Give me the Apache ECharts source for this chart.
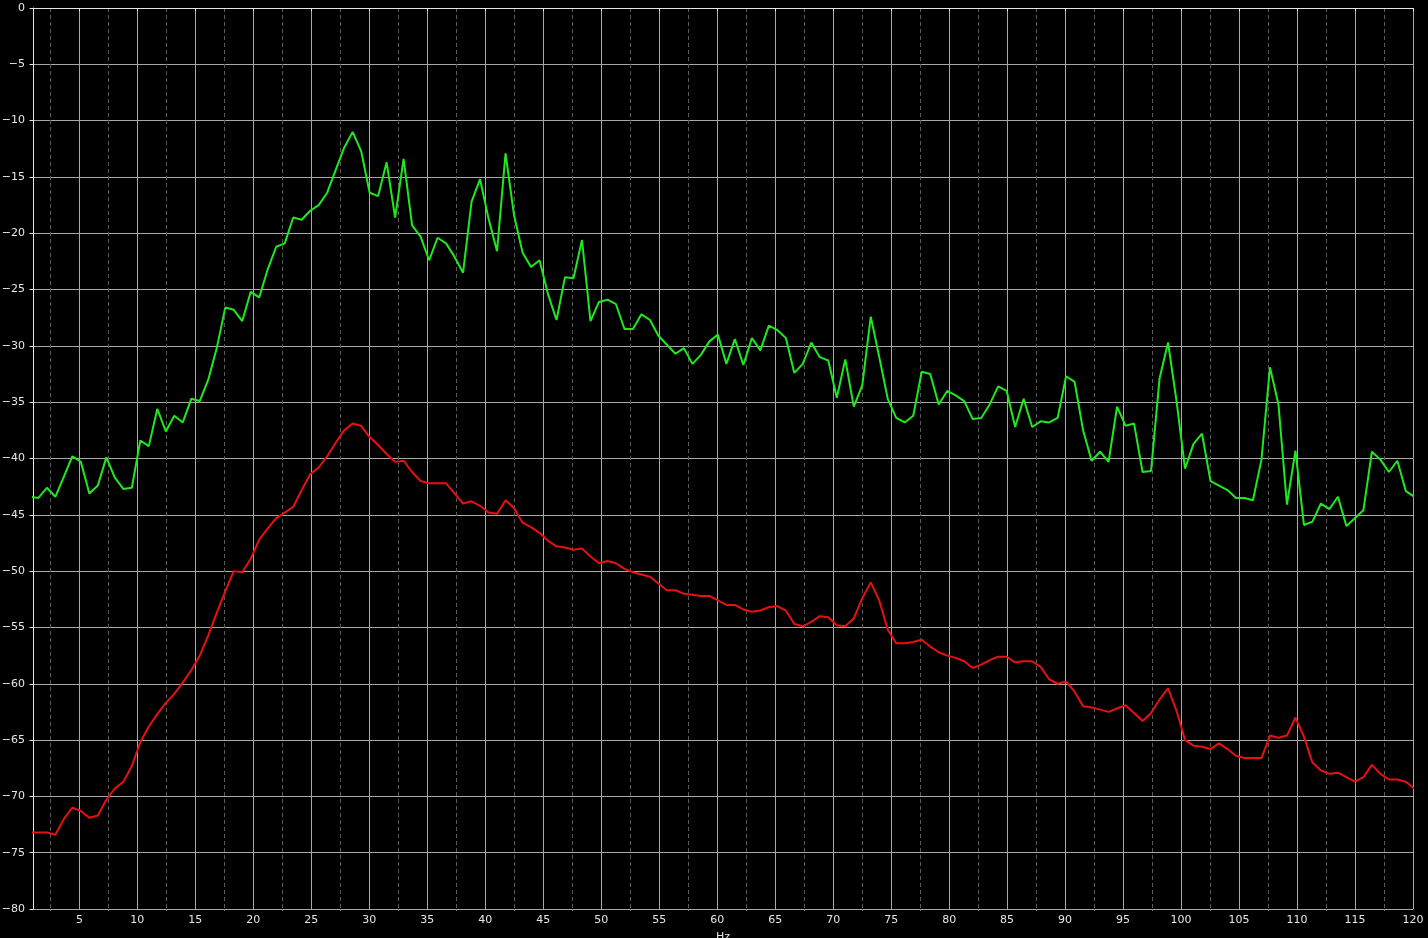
<!DOCTYPE html>
<html>
<head>
<meta charset="utf-8">
<style>
html,body{margin:0;padding:0;background:#000;}
#chart{width:1428px;height:938px;}
</style>
<script src="https://cdn.jsdelivr.net/npm/echarts@6/dist/echarts.min.js"></script>
</head>
<body>
<div id="chart"></div>
<script>
// FFT bin spacing (Hz) of the spectrum; bins start at bin 1
const FREQ_STEP_HZ = 0.732421875;

// Green spectrum (dB), one value per bin, bins 1..164
const greenDb = [
-43.4,-43.5,-42.6,-43.4,-41.6,-39.8,-40.3,-43.1,-42.4,-39.9,
-41.7,-42.7,-42.6,-38.4,-38.9,-35.6,-37.6,-36.2,-36.8,-34.7,
-34.9,-33.0,-30.2,-26.6,-26.8,-27.8,-25.2,-25.7,-23.2,-21.2,
-20.9,-18.6,-18.8,-18.0,-17.5,-16.4,-14.4,-12.4,-11.0,-12.7,
-16.4,-16.7,-13.7,-18.6,-13.4,-19.3,-20.3,-22.4,-20.4,-20.9,
-22.1,-23.5,-17.2,-15.2,-18.7,-21.6,-12.9,-18.4,-21.7,-23.0,
-22.4,-25.4,-27.7,-23.9,-24.0,-20.6,-27.8,-26.1,-25.9,-26.3,
-28.5,-28.5,-27.2,-27.7,-29.1,-29.9,-30.7,-30.2,-31.6,-30.8,
-29.6,-29.0,-31.6,-29.4,-31.7,-29.3,-30.4,-28.2,-28.6,-29.3,
-32.4,-31.6,-29.7,-31.0,-31.3,-34.6,-31.2,-35.4,-33.5,-27.4,
-31.0,-34.7,-36.4,-36.8,-36.2,-32.3,-32.5,-35.2,-34.0,-34.4,
-34.9,-36.5,-36.4,-35.2,-33.6,-34.0,-37.2,-34.7,-37.2,-36.7,
-36.8,-36.4,-32.7,-33.2,-37.5,-40.2,-39.4,-40.3,-35.4,-37.1,
-36.9,-41.2,-41.1,-32.9,-29.7,-34.9,-40.9,-38.7,-37.8,-42.0,
-42.4,-42.8,-43.5,-43.5,-43.7,-40.1,-31.9,-35.2,-44.1,-39.3,
-45.9,-45.6,-44.0,-44.5,-43.4,-46.0,-45.3,-44.6,-39.4,-40.1,
-41.2,-40.2,-42.9,-43.4
];

// Red spectrum (dB), one value per bin, bins 1..164
const redDb = [
-73.2,-73.2,-73.2,-73.4,-72.0,-71.0,-71.3,-71.9,-71.7,-70.3,
-69.3,-68.7,-67.3,-65.2,-63.8,-62.7,-61.7,-60.9,-59.9,-58.8,
-57.5,-55.7,-53.7,-51.8,-50.0,-50.1,-48.9,-47.2,-46.2,-45.3,
-44.8,-44.3,-42.8,-41.4,-40.8,-39.8,-38.6,-37.5,-36.9,-37.1,
-38.1,-38.8,-39.6,-40.3,-40.2,-41.2,-42.0,-42.2,-42.2,-42.2,
-43.1,-44.0,-43.8,-44.2,-44.8,-44.9,-43.7,-44.4,-45.7,-46.1,
-46.6,-47.3,-47.8,-47.9,-48.1,-48.0,-48.7,-49.3,-49.1,-49.3,
-49.8,-50.1,-50.3,-50.5,-51.1,-51.7,-51.7,-52.0,-52.1,-52.2,
-52.2,-52.6,-53.0,-53.0,-53.4,-53.6,-53.5,-53.2,-53.1,-53.5,
-54.7,-54.9,-54.5,-54.0,-54.1,-54.8,-54.9,-54.2,-52.4,-51.0,
-52.6,-55.2,-56.4,-56.4,-56.3,-56.1,-56.7,-57.2,-57.5,-57.7,
-58.0,-58.6,-58.3,-57.9,-57.6,-57.6,-58.1,-58.0,-58.0,-58.5,
-59.6,-60.0,-59.8,-60.7,-62.0,-62.1,-62.3,-62.5,-62.2,-61.9,
-62.6,-63.3,-62.6,-61.4,-60.4,-62.4,-65.0,-65.5,-65.6,-65.8,
-65.3,-65.8,-66.4,-66.6,-66.6,-66.6,-64.6,-64.8,-64.6,-63.0,
-64.7,-67.0,-67.7,-68.0,-67.9,-68.3,-68.7,-68.3,-67.2,-68.0,
-68.5,-68.5,-68.7,-69.3
];

// Axis ticks
const xMajorTicks = [5,10,15,20,25,30,35,40,45,50,55,60,65,70,75,80,85,90,95,100,105,110,115,120];
const xMinorTicks = [2.5,7.5,12.5,17.5,22.5,27.5,32.5,37.5,42.5,47.5,52.5,57.5,62.5,67.5,72.5,77.5,82.5,87.5,92.5,97.5,102.5,107.5,112.5,117.5];
const xRange = [1, 120];
const yRange = [-80, 0];
const yStep = 5;
const xName = 'Hz';

function toPairs(vals) {
  return vals.map((v, i) => [(i + 1) * FREQ_STEP_HZ, v]);
}

const chart = echarts.init(document.getElementById('chart'), null, {renderer: 'canvas'});
const axisColor = '#e6e6e6';
const gridColor = '#a8a8a8';
const font = 'DejaVu Sans';

chart.setOption({
  backgroundColor: '#000000',
  animation: false,
  grid: {left: 33, right: 15, top: 8, bottom: 29, containLabel: false, outerBoundsMode: 'none'},
  xAxis: [
    {
      type: 'value', min: xRange[0], max: xRange[1], position: 'bottom',
      name: xName, nameLocation: 'middle', nameGap: 23,
      nameTextStyle: {color: axisColor, fontSize: 11, fontFamily: font},
      axisLine: {show: true, lineStyle: {color: axisColor, width: 1}},
      axisTick: {show: true, inside: false, length: 3.5, customValues: xMajorTicks, lineStyle: {color: axisColor}},
      axisLabel: {show: true, customValues: xMajorTicks, color: axisColor, fontSize: 11, fontFamily: font, margin: 6},
      splitLine: {show: true, lineStyle: {color: gridColor, width: 1, type: 'solid'}},
      z: 2
    },
    {
      type: 'value', min: xRange[0], max: xRange[1], position: 'bottom',
      axisLine: {show: false},
      axisTick: {show: true, inside: false, length: 2, customValues: xMinorTicks, lineStyle: {color: '#888'}},
      axisLabel: {show: false},
      splitLine: {show: true, lineStyle: {color: '#5a5a5a', width: 1, type: [4, 3]}},
      z: 1
    }
  ],
  yAxis: {
    type: 'value', min: yRange[0], max: yRange[1], interval: yStep,
    axisLine: {show: true, onZero: false, lineStyle: {color: axisColor, width: 1}},
    axisTick: {show: true, inside: false, length: 3.5, lineStyle: {color: axisColor}},
    axisLabel: {
      color: axisColor, fontSize: 11, fontFamily: font, margin: 8,
      formatter: v => String(v).replace('-', '\u2212')
    },
    splitLine: {show: true, lineStyle: {color: gridColor, width: 1}}
  },
  series: [
    {
      name: 'green', type: 'line', xAxisIndex: 0, data: toPairs(greenDb),
      showSymbol: false, symbol: 'none', clip: true,
      lineStyle: {color: '#1fe81f', width: 2}, z: 5
    },
    {
      name: 'red', type: 'line', xAxisIndex: 0, data: toPairs(redDb),
      showSymbol: false, symbol: 'none', clip: true,
      lineStyle: {color: '#e81010', width: 2}, z: 5
    }
  ]
});
</script>
</body>
</html>
